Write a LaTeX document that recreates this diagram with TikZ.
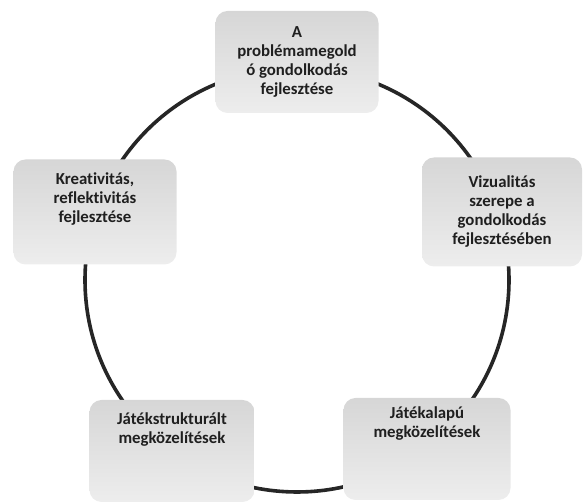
\documentclass[tikz,border=0pt]{standalone}
\usepackage{fontspec}
\setmainfont[Ligatures=NoCommon]{Carlito}
\begin{document}
\begin{tikzpicture}[x=1pt,y=1pt,
  box/.style={rounded corners=12pt, top color=black!16, bottom color=black!7, draw=none,
    minimum width=163pt, minimum height=102pt, align=center, inner sep=0pt,
    font=\fontsize{16.8}{19}\selectfont\bfseries, text=black!88},
  ring/.style={line width=3.6pt, draw=black!85}]
\useasboundingbox (0,0) rectangle (584,502);
\coordinate (c) at (297,222);
\draw[ring] (c) circle[radius=212];
\node[box] (top) at (297,440) {A\\problémamegold\\ó gondolkodás\\fejlesztése};
\node[box, minimum height=105pt] (left) at (95,290) {Kreativitás,\\reflektivitás\\fejlesztése\\[10pt]};
\node[box, minimum width=160pt, minimum height=109pt] (right) at (502,290) {Vizualitás\\szerepe a\\gondolkodás\\fejlesztésében};
\node[box, minimum width=165pt] (bl) at (172,51) {\parbox[c][100pt][t]{160pt}{\centering\vspace*{12pt}Játékstrukturált\\megközelítések}};
\node[box, minimum width=167pt] (br) at (427,53) {\parbox[c][100pt][t]{160pt}{\centering\vspace*{8pt}Játékalapú\\megközelítések}};
\end{tikzpicture}
\end{document}
